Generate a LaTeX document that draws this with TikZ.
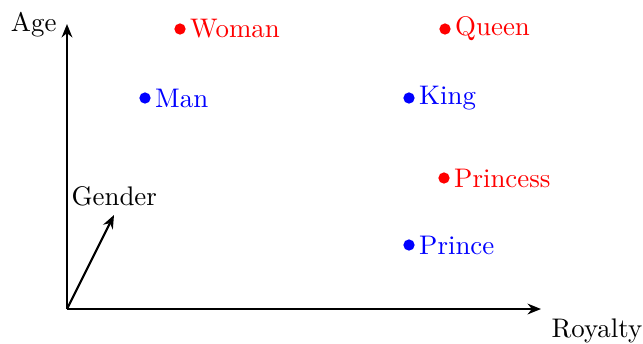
\documentclass[tikz,border=0pt]{standalone}
\usetikzlibrary{arrows.meta}
\begin{document}
\begin{tikzpicture}[x=0.372pt,y=-0.372pt,
  axis/.style={thick,-{Stealth[length=5pt,width=4pt]}},
  pt/.style={circle,fill,inner sep=0pt,minimum size=4.2pt},
  ptlabel/.style={inner sep=1.3pt,anchor=west}]
\useasboundingbox (0,0) rectangle (643,343);
\coordinate (O) at (67,309);
\coordinate (X) at (541,309);
\coordinate (Y) at (67,24);
\coordinate (G) at (114,215);
\draw[axis] (O) -- (X);
\draw[axis] (O) -- (Y);
\draw[axis] (O) -- (G);
\node[anchor=east,inner sep=0pt] (age) at (57,25) {Age};
\node[anchor=west,inner sep=0pt] (roy) at (551,331) {Royalty};
\node[anchor=west,inner sep=0pt] (gen) at (71,196) {Gender};
\node[pt,red] (w) at (180,29) {};
\node[ptlabel,red] (wl) at (w.east) {Woman};
\node[pt,red] (q) at (445,29) {};
\node[ptlabel,red] (ql) at (q.east) {Queen};
\node[pt,blue] (m) at (145,98) {};
\node[ptlabel,blue] (ml) at (m.east) {Man};
\node[pt,blue] (k) at (409,98) {};
\node[ptlabel,blue] (kl) at (k.east) {King};
\node[pt,red] (p) at (444,178) {};
\node[ptlabel,red] (pl) at (p.east) {Princess};
\node[pt,blue] (pr) at (409,245) {};
\node[ptlabel,blue] (prl) at (pr.east) {Prince};
\end{tikzpicture}
\end{document}
